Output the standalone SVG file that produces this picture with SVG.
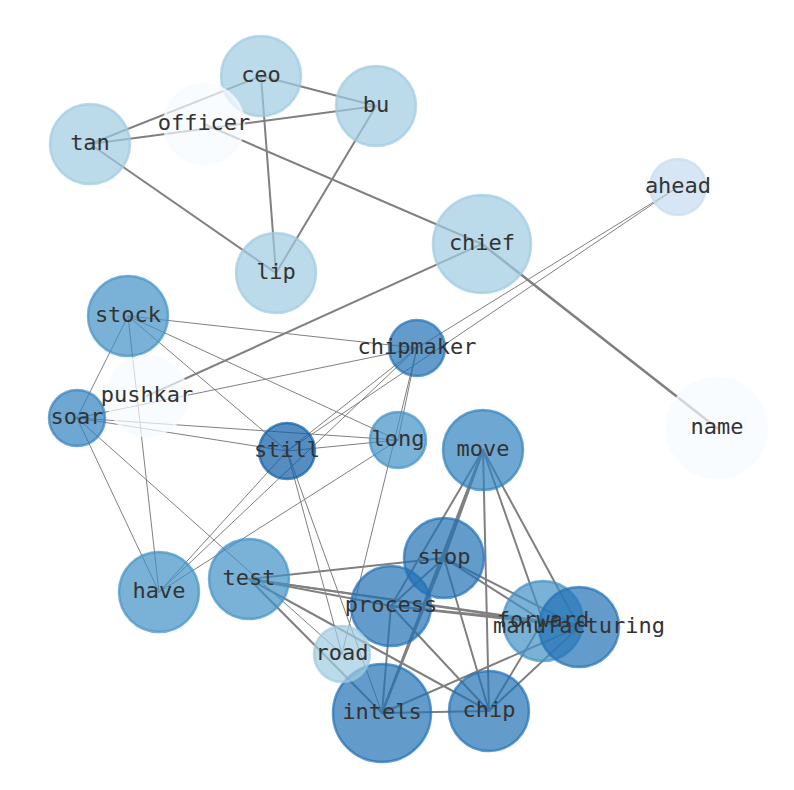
<svg xmlns="http://www.w3.org/2000/svg" width="794" height="790" viewBox="0 0 794 790">
<style>
.e{stroke:#808080;fill:none;stroke-linecap:round}
.w1{stroke-width:1}
.w2{stroke-width:2}
.w3{stroke-width:2.6}
circle{stroke-width:2.5}
.c0{fill:#f7fbff;stroke:#f7fbff;fill-opacity:.7;stroke-opacity:.7}
.c1{fill:#c6dbef;stroke:#c6dbef;fill-opacity:.7;stroke-opacity:.7}
.c2{fill:#9ecae1;stroke:#9ecae1;fill-opacity:.7;stroke-opacity:.7}
.c3{fill:#4292c6;stroke:#4292c6;fill-opacity:.7;stroke-opacity:.7}
.c4{fill:#3182bd;stroke:#3182bd;fill-opacity:.7;stroke-opacity:.7}
.c5{fill:#2171b5;stroke:#2171b5;fill-opacity:.7;stroke-opacity:.7}
.c6{fill:#0e5ca6;stroke:#0e5ca6;fill-opacity:.7;stroke-opacity:.7}
text{font-family:"DejaVu Sans Mono","Liberation Mono",monospace;font-size:22px;fill:#333333;text-anchor:middle;dominant-baseline:central}
</style>
<rect width="794" height="790" fill="#ffffff"/>
<g id="edges">
<line class="e w2" x1="90" y1="144" x2="261" y2="76"/>
<line class="e w2" x1="90" y1="144" x2="376" y2="106"/>
<line class="e w2" x1="261" y1="76" x2="376" y2="106"/>
<line class="e w2" x1="261" y1="76" x2="276" y2="273"/>
<line class="e w2" x1="376" y1="106" x2="276" y2="273"/>
<line class="e w2" x1="90" y1="144" x2="276" y2="273"/>
<line class="e w2" x1="204" y1="124" x2="482" y2="244"/>
<line class="e w2" x1="482" y1="244" x2="147" y2="396"/>
<line class="e w3" x1="482" y1="244" x2="717" y2="428"/>
<line class="e w1" x1="678" y1="187" x2="417" y2="348"/>
<line class="e w1" x1="678" y1="187" x2="287" y2="451"/>
<line class="e w1" x1="128" y1="316" x2="417" y2="348"/>
<line class="e w1" x1="128" y1="316" x2="398" y2="440"/>
<line class="e w1" x1="128" y1="316" x2="287" y2="451"/>
<line class="e w1" x1="128" y1="316" x2="77" y2="418"/>
<line class="e w1" x1="128" y1="316" x2="159" y2="592"/>
<line class="e w1" x1="77" y1="418" x2="417" y2="348"/>
<line class="e w1" x1="77" y1="418" x2="398" y2="440"/>
<line class="e w1" x1="77" y1="418" x2="287" y2="451"/>
<line class="e w1" x1="77" y1="418" x2="159" y2="592"/>
<line class="e w1" x1="77" y1="418" x2="342" y2="654"/>
<line class="e w1" x1="287" y1="451" x2="398" y2="440"/>
<line class="e w1" x1="287" y1="451" x2="417" y2="348"/>
<line class="e w1" x1="287" y1="451" x2="342" y2="654"/>
<line class="e w1" x1="287" y1="451" x2="382" y2="713"/>
<line class="e w1" x1="159" y1="592" x2="287" y2="451"/>
<line class="e w1" x1="159" y1="592" x2="417" y2="348"/>
<line class="e w1" x1="159" y1="592" x2="398" y2="440"/>
<line class="e w1" x1="417" y1="348" x2="398" y2="440"/>
<line class="e w1" x1="417" y1="348" x2="342" y2="654"/>
<line class="e w2" x1="249" y1="579" x2="444" y2="558"/>
<line class="e w2" x1="249" y1="579" x2="391" y2="606"/>
<line class="e w2" x1="249" y1="579" x2="543" y2="621"/>
<line class="e w2" x1="249" y1="579" x2="579" y2="627"/>
<line class="e w2" x1="249" y1="579" x2="382" y2="713"/>
<line class="e w2" x1="249" y1="579" x2="489" y2="711"/>
<line class="e w3" x1="483" y1="450" x2="444" y2="558"/>
<line class="e w2" x1="483" y1="450" x2="391" y2="606"/>
<line class="e w3" x1="483" y1="450" x2="382" y2="713"/>
<line class="e w2" x1="483" y1="450" x2="489" y2="711"/>
<line class="e w2" x1="483" y1="450" x2="543" y2="621"/>
<line class="e w2" x1="483" y1="450" x2="579" y2="627"/>
<line class="e w2" x1="444" y1="558" x2="391" y2="606"/>
<line class="e w2" x1="444" y1="558" x2="543" y2="621"/>
<line class="e w2" x1="444" y1="558" x2="579" y2="627"/>
<line class="e w2" x1="444" y1="558" x2="382" y2="713"/>
<line class="e w2" x1="444" y1="558" x2="489" y2="711"/>
<line class="e w2" x1="391" y1="606" x2="543" y2="621"/>
<line class="e w2" x1="391" y1="606" x2="579" y2="627"/>
<line class="e w2" x1="391" y1="606" x2="382" y2="713"/>
<line class="e w2" x1="391" y1="606" x2="489" y2="711"/>
<line class="e w2" x1="382" y1="713" x2="489" y2="711"/>
<line class="e w2" x1="382" y1="713" x2="579" y2="627"/>
<line class="e w2" x1="489" y1="711" x2="543" y2="621"/>
<line class="e w2" x1="489" y1="711" x2="579" y2="627"/>
</g>
<g id="node-ceo"><circle class="c2" cx="261" cy="76" r="40"/></g>
<g id="node-bu"><circle class="c2" cx="376" cy="106" r="40"/></g>
<g id="node-tan"><circle class="c2" cx="90" cy="144" r="40"/></g>
<g id="node-officer"><circle class="c0" cx="204" cy="124" r="40"/></g>
<g id="node-lip"><circle class="c2" cx="276" cy="273" r="40"/></g>
<g id="node-chief"><circle class="c2" cx="482" cy="244" r="49"/></g>
<g id="node-ahead"><circle class="c1" cx="678" cy="187" r="28"/></g>
<g id="node-name"><circle class="c0" cx="717" cy="428" r="50"/></g>
<g id="node-stock"><circle class="c3" cx="128" cy="316" r="40"/></g>
<g id="node-pushkar"><circle class="c0" cx="147" cy="396" r="40"/></g>
<g id="node-chipmaker"><circle class="c5" cx="417" cy="348" r="28"/></g>
<g id="node-soar"><circle class="c4" cx="77" cy="418" r="28"/></g>
<g id="node-still"><circle class="c6" cx="287" cy="451" r="28"/></g>
<g id="node-long"><circle class="c3" cx="398" cy="440" r="28"/></g>
<g id="node-move"><circle class="c4" cx="483" cy="450" r="40"/></g>
<g id="node-stop"><circle class="c5" cx="444" cy="558" r="40"/></g>
<g id="node-process"><circle class="c5" cx="391" cy="606" r="40"/></g>
<g id="node-test"><circle class="c3" cx="249" cy="579" r="40"/></g>
<g id="node-have"><circle class="c3" cx="159" cy="592" r="40"/></g>
<g id="node-forward"><circle class="c3" cx="543" cy="621" r="40"/></g>
<g id="node-manufacturing"><circle class="c5" cx="579" cy="627" r="40"/></g>
<g id="node-intels"><circle class="c5" cx="382" cy="713" r="49"/></g>
<g id="node-road"><circle class="c2" cx="342" cy="654" r="28"/></g>
<g id="node-chip"><circle class="c5" cx="489" cy="711" r="40"/></g>
<g id="labels" transform="translate(0,-1.5)">
<text x="261" y="76">ceo</text>
<text x="376" y="106">bu</text>
<text x="90" y="144">tan</text>
<text x="204" y="124">officer</text>
<text x="276" y="273">lip</text>
<text x="482" y="244">chief</text>
<text x="678" y="187">ahead</text>
<text x="717" y="428">name</text>
<text x="128" y="316">stock</text>
<text x="147" y="396">pushkar</text>
<text x="417" y="348">chipmaker</text>
<text x="77" y="418">soar</text>
<text x="287" y="451">still</text>
<text x="398" y="440">long</text>
<text x="483" y="450">move</text>
<text x="444" y="558">stop</text>
<text x="391" y="606">process</text>
<text x="249" y="579">test</text>
<text x="159" y="592">have</text>
<text x="543" y="621">forward</text>
<text x="579" y="627">manufacturing</text>
<text x="382" y="713">intels</text>
<text x="342" y="654">road</text>
<text x="489" y="711">chip</text>
</g>
</svg>
